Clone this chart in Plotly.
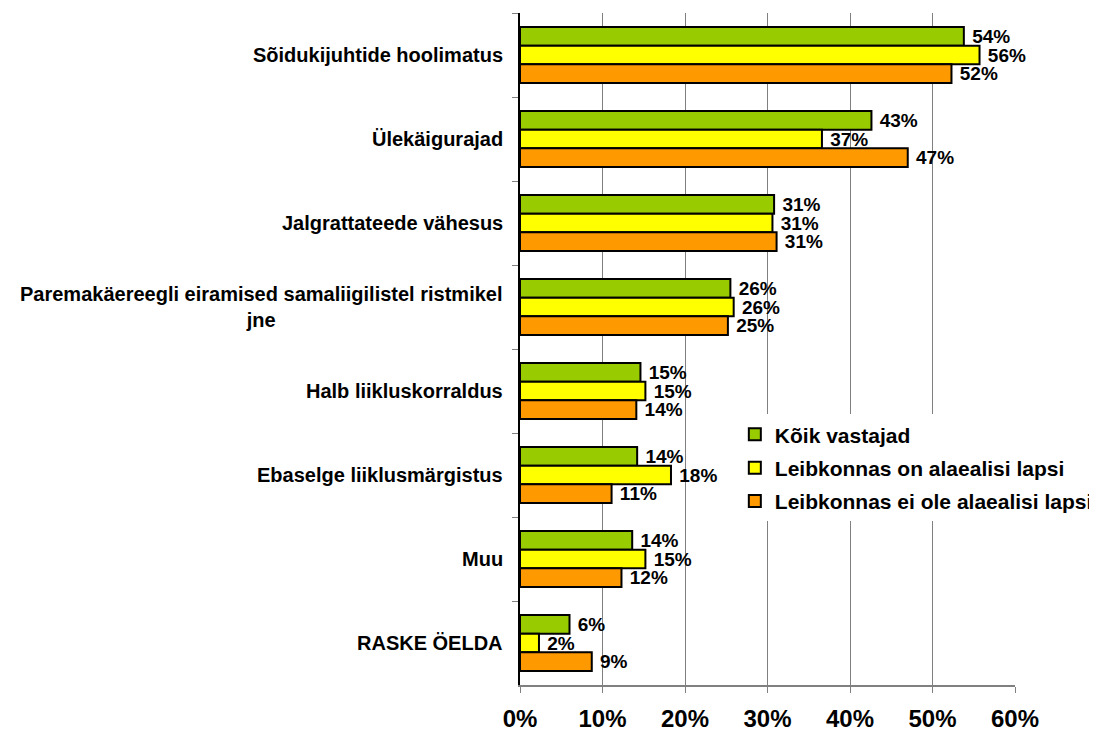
import plotly.graph_objects as go

categories = [
    "Sõidukijuhtide hoolimatus",
    "Ülekäigurajad",
    "Jalgrattateede vähesus",
    "Paremakäereegli eiramised samaliigilistel ristmikel<br>jne",
    "Halb liikluskorraldus",
    "Ebaselge liiklusmärgistus",
    "Muu",
    "RASKE ÖELDA",
]
series_names = [
    "Kõik vastajad",
    "Leibkonnas on alaealisi lapsi",
    "Leibkonnas ei ole alaealisi lapsi",
]
koik = [53.8, 42.6, 30.8, 25.5, 14.6, 14.2, 13.6, 6.0]
on_lapsi = [55.7, 36.6, 30.6, 25.9, 15.2, 18.3, 15.2, 2.3]
ei_lapsi = [52.3, 47.0, 31.1, 25.2, 14.1, 11.1, 12.3, 8.7]
colors = ["#99cc00", "#ffff00", "#ff9900"]
x_ticks = [0, 10, 20, 30, 40, 50, 60]

FONT = "Liberation Sans, Arial, sans-serif"

fig = go.Figure()
for i, (name, vals) in enumerate(zip(series_names, [koik, on_lapsi, ei_lapsi])):
    fig.add_trace(go.Bar(
        y=categories, x=vals, name=name, orientation="h",
        marker=dict(color=colors[i], line=dict(color="black", width=2)),
        text=[f" {round(v)}%" for v in vals], textposition="outside",
        textfont=dict(family=FONT, size=19, color="black", weight="bold"),
        constraintext="none", cliponaxis=False,
        legendgroup=name,
    ))

# category labels as annotations so the wrapped line is centred
for c in categories:
    fig.add_annotation(
        x=0, xref="paper", y=c, yref="y", xanchor="right", xshift=-15,
        text="<b>" + c + "</b>", showarrow=False, align="center",
        font=dict(family=FONT, size=20, color="black"),
    )

# page body adds an 8px offset, so the figure is 8px smaller than the window
fig.update_layout(
    width=1089, height=725,
    margin=dict(l=512, r=82, t=5, b=48, autoexpand=False),
    paper_bgcolor="white", plot_bgcolor="white",
    barmode="group", bargap=0.333, bargroupgap=0,
    font=dict(family=FONT, color="black"),
    legend=dict(
        x=0.434, y=0.403, xanchor="left", yanchor="top",
        bgcolor="white", traceorder="grouped", tracegroupgap=3,
        font=dict(family=FONT, size=21, color="black", weight="bold"),
    ),
)
fig.update_xaxes(
    range=[0, 60], tickvals=x_ticks, ticktext=[f"<b>{t}%</b>" for t in x_ticks],
    tickfont=dict(family=FONT, size=24, color="black"),
    showgrid=True, gridcolor="#808080", gridwidth=1,
    showline=True, linecolor="#808080", linewidth=2,
    ticks="outside", ticklen=6, tickcolor="#808080",
    ticklabelstandoff=5, zeroline=False, automargin=False,
)
fig.update_yaxes(
    autorange="reversed", showticklabels=False,
    showline=True, linecolor="black", linewidth=2,
    ticks="outside", ticklen=6, tickcolor="#808080", tickson="boundaries",
    showgrid=False, automargin=False,
)

fig.write_html("out.html")
